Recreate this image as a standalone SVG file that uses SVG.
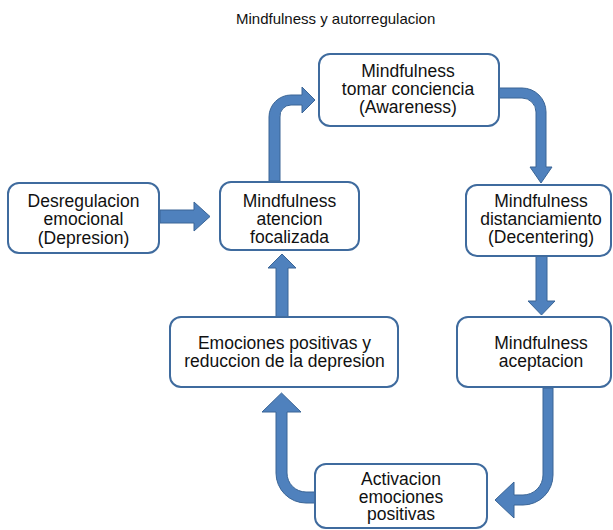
<svg xmlns="http://www.w3.org/2000/svg" width="613" height="530" viewBox="0 0 613 530">
<style>
.box{fill:#fff;stroke:#3f6b9e;stroke-width:2}
.arr{fill:#4f81bd;stroke:#3a6596;stroke-width:1}
text{font-family:"Liberation Sans",Arial,sans-serif;font-size:17.5px;fill:#111;text-anchor:middle}
.title{font-size:15px;text-anchor:start}
</style>
<rect width="613" height="530" fill="#fff"/>
<text class="title" x="236" y="24">Mindfulness y autorregulacion</text>
<g id="connectors">
<path class="arr" d="M160,210 H194 V202 L210,216.5 L194,231 V223 H160 Z"/>
<path class="arr" d="M269,181 V117 A22,22 0 0 1 291,95 H302 V87 L315,100 L302,113 V105 H291 A11,11 0 0 0 280,117 V181 Z"/>
<path class="arr" d="M499,88 H522 A24,24 0 0 1 546,112 V167 H552 L541,183 L530,167 H536 V112 A14,14 0 0 0 522,98 H499 Z"/>
<path class="arr" d="M536,256 V301 H528 L541.5,315 L555,301 H547 V256 Z"/>
<path class="arr" d="M543,388 H553 V475 A30,30 0 0 1 523,505 H514 V518 L495,500 L514,482 V495 H523 A20,20 0 0 0 543,475 Z"/>
<path class="arr" d="M315,503 H306 A30,30 0 0 1 276,473 V412 H262 L281.5,393 L301,412 H287 V473 A19,19 0 0 0 306,492 H315 Z"/>
<path class="arr" d="M276,317 V268 H268 L282,254 L296,268 H288 V317 Z"/>
</g>
<g id="awareness">
<rect class="box" x="319" y="54" width="180" height="72" rx="11"/>
<text x="408" y="77">Mindfulness</text>
<text x="408" y="95">tomar conciencia</text>
<text x="408" y="113">(Awareness)</text>
</g>
<g id="desregulacion">
<rect class="box" x="8" y="183" width="151" height="70" rx="11"/>
<text x="83.5" y="207">Desregulacion</text>
<text x="83.5" y="225">emocional</text>
<text x="83.5" y="244">(Depresion)</text>
</g>
<g id="atencion">
<rect class="box" x="220" y="182" width="139" height="68" rx="11"/>
<text x="289.5" y="207">Mindfulness</text>
<text x="289.5" y="225">atencion</text>
<text x="289.5" y="243">focalizada</text>
</g>
<g id="distanciamiento">
<rect class="box" x="466" y="185" width="145" height="71" rx="11"/>
<text x="541" y="207">Mindfulness</text>
<text x="541" y="224.5">distanciamiento</text>
<text x="541" y="243">(Decentering)</text>
</g>
<g id="emociones">
<rect class="box" x="170" y="317" width="228" height="70" rx="11"/>
<text x="284.5" y="349">Emociones positivas y</text>
<text x="284.5" y="367">reduccion de la depresion</text>
</g>
<g id="aceptacion">
<rect class="box" x="457" y="317" width="154" height="70" rx="11"/>
<text x="541" y="349">Mindfulness</text>
<text x="541" y="367">aceptacion</text>
</g>
<g id="activacion">
<rect class="box" x="315" y="464" width="172" height="64" rx="11"/>
<text x="401" y="485">Activacion</text>
<text x="401" y="503">emociones</text>
<text x="401" y="520">positivas</text>
</g>
</svg>
